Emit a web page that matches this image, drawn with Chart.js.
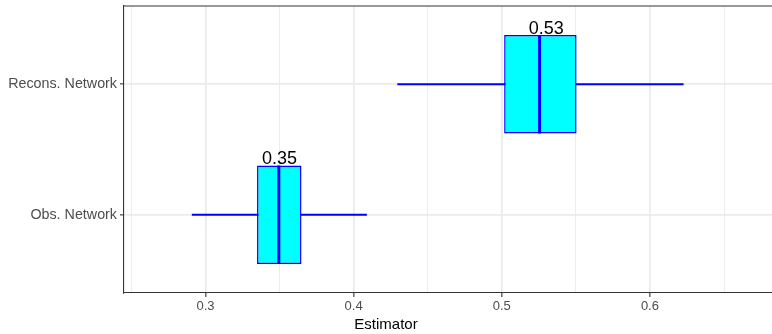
<!DOCTYPE html>
<html>
<head>
<meta charset="utf-8">
<script src="https://cdn.jsdelivr.net/npm/chart.js@4.4.1/dist/chart.umd.min.js"></script>
<style>
    html, body { margin: 0; padding: 0; background: #fff; }
    #wrap { width: 772px; height: 334px; position: relative; }
</style>
</head>
<body>
<div id="wrap"><canvas id="boxChart"></canvas></div>
<script>
// categories (bottom to top) and box statistics
const categories = ['Obs. Network', 'Recons. Network'];
const positions = [1, 2];
const whiskerLow = [0.291, 0.4297];
const q1 = [0.3348, 0.5016];
const median = [0.3495, 0.5255];
const q3 = [0.3648, 0.5505];
const whiskerHigh = [0.4087, 0.6225];
const labelValues = [0.35, 0.53];

const xMajorTicks = [0.3, 0.4, 0.5, 0.6];
const xMinorTicks = [0.25, 0.35, 0.45, 0.55, 0.65];

const FONT = '"Liberation Sans", Arial, sans-serif';
const isMajor = v => xMajorTicks.some(t => Math.abs(t - v) < 1e-6);

// median lines, labels above each box, top border of the panel
const boxExtras = {
    id: 'boxExtras',
    afterDatasetsDraw(chart) {
        const ctx = chart.ctx;
        const xs = chart.scales.x;
        const meta = chart.getDatasetMeta(0);
        ctx.save();
        ctx.strokeStyle = '#0000FF';
        ctx.lineWidth = 3;
        median.forEach((m, i) => {
            const bar = meta.data[i];
            const px = xs.getPixelForValue(m);
            ctx.beginPath();
            ctx.moveTo(px, bar.y - bar.height / 2);
            ctx.lineTo(px, bar.y + bar.height / 2);
            ctx.stroke();
        });
        ctx.font = '18px ' + FONT;
        ctx.fillStyle = '#000';
        ctx.textAlign = 'center';
        ctx.textBaseline = 'alphabetic';
        labelValues.forEach((v, i) => {
            const bar = meta.data[i];
            ctx.fillText(v.toFixed(2), xs.getPixelForValue(v), bar.y - bar.height / 2 - 1);
        });
        const a = chart.chartArea;
        ctx.strokeStyle = '#333333';
        ctx.lineWidth = 1.1;
        ctx.beginPath();
        ctx.moveTo(a.left, a.top);
        ctx.lineTo(a.right, a.top);
        ctx.stroke();
        ctx.restore();
    }
};

new Chart(document.getElementById('boxChart').getContext('2d'), {
    type: 'bar',
    data: {
        datasets: [
            {
                label: 'box',
                data: positions.map((p, i) => ({ x: [q1[i], q3[i]], y: p })),
                backgroundColor: '#00FFFF',
                borderColor: '#0000FF',
                borderWidth: 1.5,
                borderSkipped: false,
                grouped: false,
                barPercentage: 0.755,
                categoryPercentage: 1
            },
            {
                label: 'whisker',
                data: positions.map((p, i) => ({ x: [whiskerLow[i], whiskerHigh[i]], y: p })),
                backgroundColor: '#0000FF',
                borderWidth: 0,
                grouped: false,
                barThickness: 1.5
            }
        ]
    },
    options: {
        indexAxis: 'y',
        responsive: true,
        maintainAspectRatio: false,
        animation: false,
        layout: { padding: { top: 6, left: 0, right: 0, bottom: 0 } },
        plugins: {
            legend: { display: false },
            tooltip: { enabled: false },
            title: {
                display: true,
                position: 'bottom',
                text: 'Estimator',
                color: '#000',
                font: { family: FONT, size: 15, weight: 'normal' },
                padding: { top: 0, bottom: 0 }
            }
        },
        scales: {
            x: {
                type: 'linear',
                min: 0.245,
                max: 0.6824,
                afterBuildTicks: axis => {
                    axis.ticks = xMajorTicks.concat(xMinorTicks).sort((a, b) => a - b).map(v => ({ value: v }));
                },
                afterFit: axis => { axis.height = 23; axis.paddingLeft = 0; axis.paddingRight = 0; },
                ticks: {
                    autoSkip: false,
                    maxRotation: 0,
                    padding: 2,
                    color: '#4D4D4D',
                    font: { family: FONT, size: 13 },
                    callback: v => isMajor(v) ? String(Math.round(v * 10) / 10) : ''
                },
                grid: {
                    color: '#EBEBEB',
                    lineWidth: c => isMajor(c.tick.value) ? 1.7 : 0.9,
                    tickColor: c => isMajor(c.tick.value) ? '#333333' : 'rgba(0,0,0,0)',
                    tickLength: 4,
                    tickWidth: 1.1
                },
                border: { display: true, color: '#333333', width: 1.1 }
            },
            y: {
                type: 'linear',
                min: 0.4,
                max: 2.6,
                offset: false,
                afterBuildTicks: axis => {
                    axis.ticks = positions.map(v => ({ value: v }));
                },
                afterFit: axis => { axis.width = 124; axis.paddingTop = 0; axis.paddingBottom = 0; },
                ticks: {
                    padding: 3,
                    color: '#4D4D4D',
                    font: { family: FONT, size: 14.3 },
                    callback: v => categories[positions.indexOf(v)] || ''
                },
                grid: {
                    offset: false,
                    color: '#EBEBEB',
                    lineWidth: 1.7,
                    tickColor: '#333333',
                    tickLength: 4,
                    tickWidth: 1.1
                },
                border: { display: true, color: '#333333', width: 1.1 }
            }
        }
    },
    plugins: [boxExtras]
});
</script>
</body>
</html>
